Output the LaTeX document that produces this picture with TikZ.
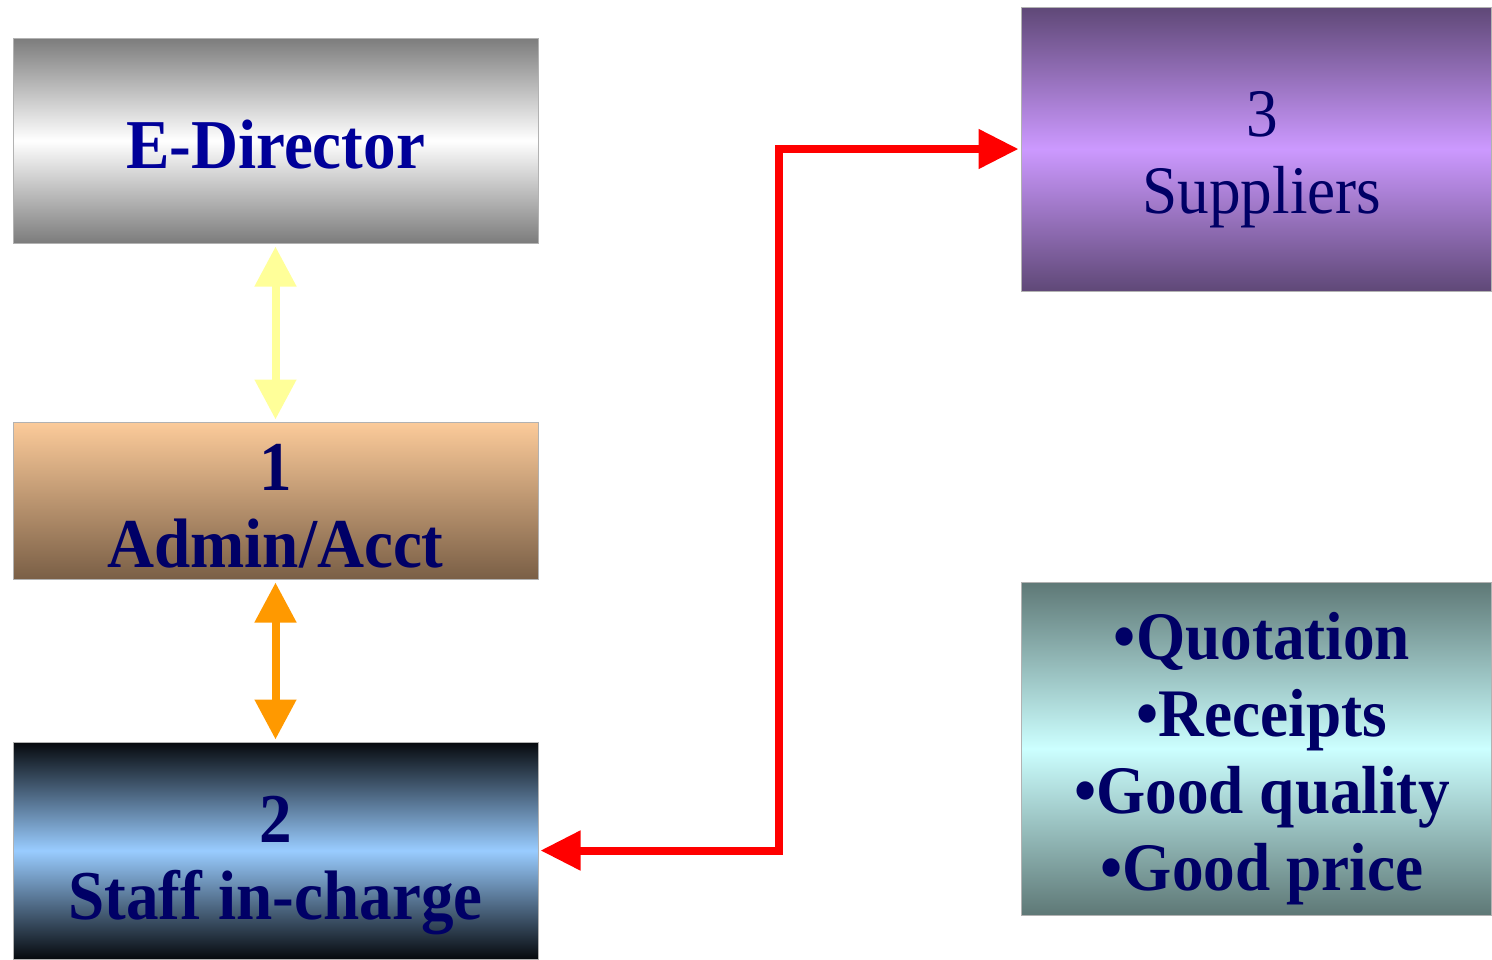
\documentclass[tikz,border=0pt]{standalone}
\usepackage{fontspec}
\setmainfont{Liberation Serif}[FakeStretch=0.93]
\usetikzlibrary{arrows.meta}

\definecolor{edtext}{HTML}{000099}
\definecolor{navytext}{HTML}{000066}
\definecolor{greyedge}{HTML}{7C7C7C}
\definecolor{peachtop}{HTML}{FCCB9A}
\definecolor{brownbot}{HTML}{7A5F46}
\definecolor{nightedge}{HTML}{06090D}
\definecolor{skymid}{HTML}{99CCFF}
\definecolor{plumedge}{HTML}{5F4877}
\definecolor{lilacmid}{HTML}{CC99FF}
\definecolor{tealedge}{HTML}{5E7876}
\definecolor{icemid}{HTML}{CCFFFF}
\definecolor{paleyellow}{HTML}{FFFF99}
\definecolor{amber}{HTML}{FF9900}

\begin{document}
\begin{tikzpicture}
  [x=1pt,y=-1pt,
   box/.style={rectangle,draw=gray!60,line width=1pt,inner sep=0pt},
   boxtext/.style={inner sep=0pt,align=center,text depth=0pt,text=navytext,
     font=\bfseries\fontsize{70}{77}\selectfont},
   twoway/.style={line width=8pt,{Triangle[length=40pt,width=40pt]}-{Triangle[length=40pt,width=40pt]}}]
  \useasboundingbox (0,0) rectangle (1492,959);

  % boxes
  \node[box,minimum width=525pt,minimum height=205pt,
        top color=greyedge,bottom color=greyedge,middle color=white] (dir) at (275.5,140.5) {};
  \node[box,minimum width=525pt,minimum height=157pt,
        top color=peachtop,bottom color=brownbot] (admin) at (275.5,500.5) {};
  \node[box,minimum width=525pt,minimum height=217pt,
        top color=nightedge,bottom color=nightedge,middle color=skymid] (staff) at (275.5,850.5) {};
  \node[box,minimum width=470pt,minimum height=284pt,
        top color=plumedge,bottom color=plumedge,middle color=lilacmid] (sup) at (1256,149) {};
  \node[box,minimum width=470pt,minimum height=333pt,
        top color=tealedge,bottom color=tealedge,middle color=icemid] (quote) at (1256,748.5) {};

  % texts
  \node[boxtext,text=edtext] (dirtext) at ([yshift=-4pt]dir.center) {E-Director};
  \node[boxtext] (admintext) at ([yshift=-5pt]admin.center) {1\\Admin/Acct};
  \node[boxtext] (stafftext) at ([yshift=-7pt]staff.center) {2\\Staff in-charge};
  \node[boxtext,font=\fontsize{68}{77}\selectfont] (suptext) at ([xshift=6pt,yshift=-3pt]sup.center) {3\\Suppliers};
  \node[boxtext,font=\bfseries\fontsize{68}{77}\selectfont] (quotetext) at ([xshift=6pt,yshift=-3pt]quote.center)
        {•Quotation\\•Receipts\\•Good quality\\•Good price};

  \coordinate (bend) at (779,500);

  \draw[twoway,paleyellow,shorten <=3pt,shorten >=2pt] (dir) -- (admin);
  \draw[twoway,amber,shorten <=3pt,shorten >=2pt] (admin) -- (staff);
  \draw[red,line width=8pt,line join=miter,shorten <=2pt,shorten >=2pt,
        {Triangle[length=40pt,width=38pt]}-{Triangle[length=40pt,width=38pt]}]
        (staff.east) -| (sup.west -| bend) -- (sup.west);
\end{tikzpicture}
\end{document}
